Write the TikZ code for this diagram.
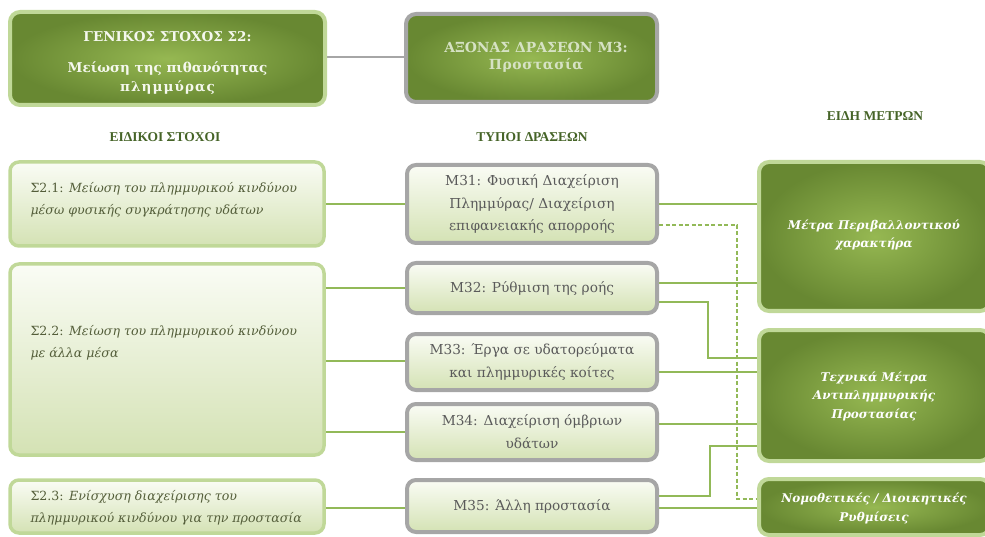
\documentclass[tikz,border=0pt]{standalone}
\usepackage{fontspec}
\setmainfont{DejaVu Serif}
\newfontfamily\lib{Liberation Serif}
\newfontfamily\spc[LetterSpace=4]{DejaVu Serif}
\newfontfamily\spcb[LetterSpace=8]{DejaVu Serif}
\usetikzlibrary{backgrounds}
\definecolor{dkg}{RGB}{104,136,50}
\definecolor{ltg}{RGB}{150,184,82}
\definecolor{bordg}{RGB}{192,216,152}
\definecolor{gryb}{RGB}{166,166,166}
\definecolor{pale1}{RGB}{250,252,245}
\definecolor{pale2}{RGB}{212,226,180}
\definecolor{conn}{RGB}{146,185,88}
\definecolor{headc}{RGB}{70,100,40}
\definecolor{txtl}{RGB}{84,94,58}
\definecolor{txtm}{RGB}{90,90,90}
\definecolor{toptxt}{RGB}{245,248,238}
\definecolor{axtxt}{RGB}{214,226,196}
\begin{document}
\begin{tikzpicture}[x=1pt,y=-1pt,
  darkbox/.style={draw=bordg, line width=4pt, rounded corners=10pt, inner color=ltg, outer color=dkg},
  axisbox/.style={draw=gryb, line width=4pt, rounded corners=10pt, inner color=ltg, outer color=dkg},
  palebox/.style={draw=bordg, line width=3.5pt, rounded corners=9pt, top color=pale1, bottom color=pale2},
  graybox/.style={draw=gryb, line width=4pt, rounded corners=9pt, top color=pale1, bottom color=pale2,
     text=txtm, align=center, font=\fontsize{13.7}{22.5}\selectfont},
  darktxt/.style={text=white, align=center, font=\bfseries\itshape\fontsize{12}{18.5}\selectfont},
  paletxt/.style={text=txtl, align=left, anchor=west, font=\fontsize{12.6}{22}\selectfont},
  headtxt/.style={text=headc, font=\lib\bfseries\fontsize{13.5}{16}\selectfont},
  conline/.style={draw=conn, line width=1.6pt},
  dashline/.style={draw=conn, line width=1.6pt, dash pattern=on 4pt off 2.5pt}]
\useasboundingbox (0,0) rectangle (985,537);
% top boxes
\node[darkbox, minimum width=315pt, minimum height=93pt] (gen) at (167.5,58.5) {};
\node[text=toptxt, align=center, font=\bfseries\fontsize{13.5}{20}\selectfont] (gent) at (167.5,62.5)
  {ΓΕΝΙΚΟΣ ΣΤΟΧΟΣ Σ2:\\[11pt]Μείωση της πιθανότητας\\[-1pt]{\spcb πλημμύρας}};
\node[axisbox, minimum width=251pt, minimum height=88pt] (axis) at (531.5,58) {};
\node[text=axtxt, align=center, font=\bfseries\fontsize{13.9}{16.5}\selectfont] (axist) at (536,57.5)
  {ΑΞΟΝΑΣ ΔΡΑΣΕΩΝ Μ3:\\{\spc Προστασία}};
% headings
\node[headtxt] (h1) at (165,137) {ΕΙΔΙΚΟΙ ΣΤΟΧΟΙ};
\node[headtxt] (h2) at (532,137) {ΤΥΠΟΙ ΔΡΑΣΕΩΝ};
\node[headtxt] (h3) at (875,116) {ΕΙΔΗ ΜΕΤΡΩΝ};
% left boxes
\node[palebox, minimum width=314pt, minimum height=84pt] (s21) at (167,204) {};
\node[paletxt] (s21t) at (27,200) {Σ2.1: \textit{Μείωση του πλημμυρικού κινδύνου}\\\textit{μέσω φυσικής συγκράτησης υδάτων}};
\node[palebox, minimum width=314pt, minimum height=191pt] (s22) at (167,359.5) {};
\node[paletxt] (s22t) at (27,343) {Σ2.2: \textit{Μείωση του πλημμυρικού κινδύνου}\\\textit{με άλλα μέσα}};
\node[palebox, minimum width=314pt, minimum height=53pt] (s23) at (167,506.5) {};
\node[paletxt] (s23t) at (27,507.5) {Σ2.3: \textit{Ενίσχυση διαχείρισης του}\\\textit{πλημμυρικού κινδύνου για την προστασία}};
% middle boxes
\node[graybox, minimum width=250pt, minimum height=78pt] (m31) at (532,204) {Μ31: Φυσική Διαχείριση\\Πλημμύρας/ Διαχείριση\\επιφανειακής απορροής};
\node[graybox, minimum width=250pt, minimum height=50pt] (m32) at (532,288) {Μ32: Ρύθμιση της ροής};
\node[graybox, minimum width=250pt, minimum height=56pt] (m33) at (532,362) {Μ33: Έργα σε υδατορεύματα\\και πλημμυρικές κοίτες};
\node[graybox, minimum width=250pt, minimum height=56pt] (m34) at (532,432) {Μ34: Διαχείριση όμβριων\\υδάτων};
\node[graybox, minimum width=250pt, minimum height=52pt] (m35) at (532,506) {Μ35: Άλλη προστασία};
% right boxes
\node[darkbox, minimum width=231pt, minimum height=149pt] (env) at (874.5,236.5) {};
\node[darktxt] (envt) at (874,235) {Μέτρα Περιβαλλοντικού\\χαρακτήρα};
\node[darkbox, minimum width=231pt, minimum height=131pt] (tech) at (874.5,395.5) {};
\node[darktxt] (techt) at (874,396) {Τεχνικά Μέτρα\\Αντιπλημμυρικής\\Προστασίας};
\node[darkbox, minimum width=231pt, minimum height=56pt] (nomo) at (874.5,507) {};
\node[darktxt] (nomot) at (874,508.5) {Νομοθετικές / Διοικητικές\\Ρυθμίσεις};
% connectors
\begin{scope}[on background layer]
\draw[draw=gryb, line width=2.5pt] (gen.east |- 0,57) -- (axis.west |- 0,57);
\draw[conline] (s21.east |- m31.west) -- (m31.west);
\draw[conline] (s22.east |- m32.west) -- (m32.west);
\draw[conline] (s22.east |- 0,361) -- (m33.west |- 0,361);
\draw[conline] (s22.east |- m34.west) -- (m34.west);
\draw[conline] (s23.east |- 0,508) -- (m35.west |- 0,508);
\draw[conline] (m31.east |- 0,204) -- (env.west |- 0,204);
\draw[conline] (m32.east |- 0,283) -- (env.west |- 0,283);
\draw[conline] (m32.east |- 0,302) -- (708,302) -- (708,358) -- (tech.west |- 0,358);
\draw[conline] (m33.east |- 0,372) -- (tech.west |- 0,372);
\draw[conline] (m34.east |- 0,424) -- (tech.west |- 0,424);
\draw[conline] (m35.east |- 0,496) -- (710,496) -- (710,446) -- (tech.west |- 0,446);
\draw[conline] (m35.east |- 0,508) -- (nomo.west |- 0,508);
\draw[dashline] (m31.east |- 0,225) -- (737,225) -- (737,499) -- (nomo.west |- 0,499);
\end{scope}
\end{tikzpicture}
\end{document}
